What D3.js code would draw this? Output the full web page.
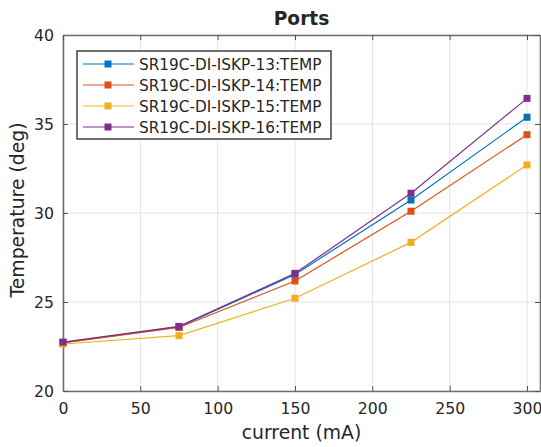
<!DOCTYPE html>
<html>
<head>
<meta charset="UTF-8" />
<title>Ports</title>
<script src="https://d3js.org/d3.v7.min.js"></script>
<style>
  body { margin: 0; background: #fff; }
  text { font-family: "DejaVu Sans", sans-serif; fill: #262626; }
</style>
</head>
<body>
<svg id="chart" width="541" height="447"></svg>
<script>
// data
var currents = [0, 75, 150, 225, 300];
var seriesNames = ["SR19C-DI-ISKP-13:TEMP", "SR19C-DI-ISKP-14:TEMP", "SR19C-DI-ISKP-15:TEMP", "SR19C-DI-ISKP-16:TEMP"];
var temp13 = [22.72, 23.60, 26.55, 30.73, 35.38];
var temp14 = [22.70, 23.57, 26.18, 30.10, 34.40];
var temp15 = [22.64, 23.11, 25.21, 28.35, 32.70];
var temp16 = [22.75, 23.63, 26.61, 31.11, 36.44];
var colors = ["#0072BD", "#D95319", "#EDB120", "#7E2F8E"];
var xTicks = [0, 50, 100, 150, 200, 250, 300];
var yTicks = [20, 25, 30, 35, 40];

var allSeries = [temp13, temp14, temp15, temp16];

var svg = d3.select("#chart");
var pLeft = 63, pRight = 540, pTop = 35, pBottom = 391;

var x = d3.scaleLinear().domain([0, 308.4]).range([pLeft, pRight]);
var y = d3.scaleLinear().domain([20, 40]).range([pBottom, pTop]);

// grid
svg.append("g").selectAll("line").data(xTicks).enter().append("line")
  .attr("x1", d => x(d)).attr("x2", d => x(d))
  .attr("y1", pTop).attr("y2", pBottom)
  .attr("stroke", "#e3e3e3").attr("stroke-width", 1);
svg.append("g").selectAll("line").data(yTicks).enter().append("line")
  .attr("x1", pLeft).attr("x2", pRight)
  .attr("y1", d => y(d)).attr("y2", d => y(d))
  .attr("stroke", "#e3e3e3").attr("stroke-width", 1);

// axes (ticks pointing inward)
var xAxis = svg.append("g").attr("transform", "translate(0," + pBottom + ")")
  .call(d3.axisBottom(x).tickValues(xTicks).tickSizeInner(-5).tickSizeOuter(0).tickPadding(12));
var yAxis = svg.append("g").attr("transform", "translate(" + pLeft + ",0)")
  .call(d3.axisLeft(y).tickValues(yTicks).tickSizeInner(-5).tickSizeOuter(0).tickPadding(9));
var xTop = svg.append("g").attr("transform", "translate(0," + pTop + ")")
  .call(d3.axisTop(x).tickValues(xTicks).tickSizeInner(-5).tickSizeOuter(0).tickFormat(""));
var yRight = svg.append("g").attr("transform", "translate(" + pRight + ",0)")
  .call(d3.axisRight(y).tickValues(yTicks).tickSizeInner(-5).tickSizeOuter(0).tickFormat(""));

[xAxis, yAxis, xTop, yRight].forEach(function (g) {
  g.select(".domain").attr("stroke", "#707070").attr("stroke-width", 1.6);
  g.selectAll(".tick line").attr("stroke", "#505050").attr("stroke-width", 1);
  g.selectAll(".tick text").style("font-size", "15.7px").style("font-family", "DejaVu Sans").attr("fill", "#262626");
});

// lines and markers
var line = d3.line().x((d, i) => x(currents[i])).y(d => y(d));
allSeries.forEach(function (s, k) {
  svg.append("path").datum(s).attr("d", line)
    .attr("fill", "none").attr("stroke", colors[k]).attr("stroke-width", 1.2);
  svg.append("g").selectAll("rect").data(s).enter().append("rect")
    .attr("x", (d, i) => x(currents[i]) - 3.5).attr("y", d => y(d) - 3.5)
    .attr("width", 7).attr("height", 7).attr("fill", colors[k]);
});

// titles
svg.append("text").attr("x", (pLeft + pRight) / 2).attr("y", 25)
  .attr("text-anchor", "middle").style("font-size", "18.6px").style("font-weight", "bold")
  .attr("fill", "#000").text("Ports");
svg.append("text").attr("x", (pLeft + pRight) / 2).attr("y", 439)
  .attr("text-anchor", "middle").style("font-size", "18.8px").text("current (mA)");
svg.append("text").attr("transform", "translate(24,210) rotate(-90)")
  .attr("text-anchor", "middle").style("font-size", "18.8px").text("Temperature (deg)");

// legend
var legend = svg.append("g");
legend.append("rect").attr("x", 77).attr("y", 51).attr("width", 254).attr("height", 88)
  .attr("fill", "#fff").attr("stroke", "#262626").attr("stroke-width", 1.3);
var items = legend.selectAll("g.item").data(seriesNames).enter().append("g")
  .attr("transform", (d, i) => "translate(0," + (64 + i * 21) + ")");
items.append("line").attr("x1", 83).attr("x2", 134).attr("y1", 0).attr("y2", 0)
  .attr("stroke", (d, i) => colors[i]).attr("stroke-width", 1.2);
items.append("rect").attr("x", 104.5).attr("y", -3.5).attr("width", 7).attr("height", 7)
  .attr("fill", (d, i) => colors[i]);
items.append("text").attr("x", 139).attr("y", 5.5).style("font-size", "15.3px").text(d => d);
</script>
</body>
</html>
